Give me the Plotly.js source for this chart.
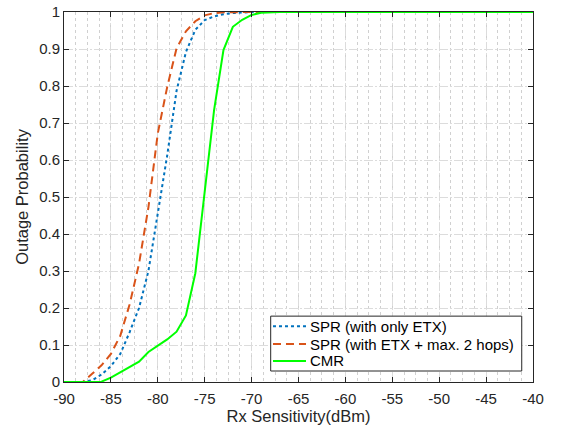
<!DOCTYPE html>
<html>
<head>
<meta charset="utf-8">
<script src="https://cdn.plot.ly/plotly-3.0.1.min.js"></script>
<style>html,body{margin:0;padding:0;background:#fff;}#chart{width:561px;height:433px;}</style>
</head>
<body>
<div id="chart"></div>
<script>
const rxSensitivity = [-90,-89,-88,-87,-86,-85,-84,-83,-82,-81,-80,-79,-78,-77,-76,-75,-74,-73,-72,-71,-70,-69,-68,-67,-66,-65,-64,-63,-62,-61,-60,-59,-58,-57,-56,-55,-54,-53,-52,-51,-50,-49,-48,-47,-46,-45,-44,-43,-42,-41,-40];
const sprOnlyEtx = [0,0,0,0.005,0.02,0.043,0.076,0.135,0.2,0.3,0.452,0.612,0.787,0.892,0.952,0.978,0.988,0.994,0.997,0.999,1,1,1,1,1,1,1,1,1,1,1,1,1,1,1,1,1,1,1,1,1,1,1,1,1,1,1,1,1,1,1];
const sprEtx2Hops = [0,0,0,0.022,0.045,0.076,0.125,0.21,0.32,0.472,0.672,0.797,0.902,0.948,0.975,0.991,0.997,0.999,1,1,1,1,1,1,1,1,1,1,1,1,1,1,1,1,1,1,1,1,1,1,1,1,1,1,1,1,1,1,1,1,1];
const cmr = [0,0,0,0,0.001,0.012,0.026,0.04,0.055,0.081,0.099,0.115,0.136,0.18,0.294,0.51,0.735,0.897,0.96,0.979,0.992,0.998,1,1,1,1,1,1,1,1,1,1,1,1,1,1,1,1,1,1,1,1,1,1,1,1,1,1,1,1,1];
const seriesNames = ["SPR (with only ETX)", "SPR (with ETX + max. 2 hops)", "CMR"];
const seriesColors = ['#0072BD', '#D95319', '#00FF00'];
const seriesDash = ['dot', '8px,5px', 'solid'];
const xTickVals = [-90,-85,-80,-75,-70,-65,-60,-55,-50,-45,-40];
const yTickVals = [0,0.1,0.2,0.3,0.4,0.5,0.6,0.7,0.8,0.9,1];

const seriesValues = [sprOnlyEtx, sprEtx2Hops, cmr];
const traces = seriesValues.map((vals, i) => ({
  x: rxSensitivity, y: vals, name: seriesNames[i], mode: 'lines',
  line: {color: seriesColors[i], width: 2, dash: seriesDash[i]}, showlegend: false
}));

// compact legend box (MATLAB style), drawn in paper coordinates
const legBox = {x0: 0.4407, x1: 0.976, y0: 0.0297, y1: 0.178};
const legRows = [0.1505, 0.1027, 0.0568];
const shapes = [{type: 'rect', xref: 'paper', yref: 'paper', x0: legBox.x0, x1: legBox.x1, y0: legBox.y0, y1: legBox.y1,
  fillcolor: '#fff', line: {color: '#262626', width: 1}, layer: 'above'}];
const annotations = [];
seriesNames.forEach((n, i) => {
  shapes.push({type: 'line', xref: 'paper', yref: 'paper', x0: 0.4456, x1: 0.516, y0: legRows[i], y1: legRows[i],
    line: {color: seriesColors[i], width: 2, dash: seriesDash[i]}, layer: 'above'});
  annotations.push({xref: 'paper', yref: 'paper', x: 0.5195, y: legRows[i], xanchor: 'left', yanchor: 'middle',
    text: n, showarrow: false, font: {size: 15, color: '#000'}});
});

const layout = {
  width: 561, height: 433,
  margin: {l: 64, r: 28, t: 12, b: 51},
  paper_bgcolor: '#fff', plot_bgcolor: '#fff',
  font: {family: 'Liberation Sans, Arial, sans-serif', size: 15, color: '#262626'},
  showlegend: false,
  shapes: shapes,
  annotations: annotations,
  xaxis: {
    range: [-90, -40], tickvals: xTickVals, ticktext: xTickVals.map(String),
    ticks: 'inside', ticklen: 5, tickcolor: '#262626', tickwidth: 1,
    showline: true, linecolor: '#262626', linewidth: 1, mirror: 'ticks',
    showgrid: true, gridcolor: '#dcdcdc', gridwidth: 1, griddash: '9px,2px,2px,2px',
    minor: {dtick: 1.25, showgrid: true, gridcolor: '#d0d0d0', griddash: 'dot', gridwidth: 1, ticks: ''},
    zeroline: false, ticklabelstandoff: 3,
    title: {text: 'Rx Sensitivity(dBm)', font: {size: 16.5, color: '#262626'}, standoff: 0},
    tickfont: {size: 15, color: '#262626'}
  },
  yaxis: {
    range: [0, 1], tickvals: yTickVals, ticktext: yTickVals.map(String),
    ticks: 'inside', ticklen: 5, tickcolor: '#262626', tickwidth: 1,
    showline: true, linecolor: '#262626', linewidth: 1, mirror: 'ticks',
    showgrid: true, gridcolor: '#dcdcdc', gridwidth: 1, griddash: '9px,2px,2px,2px',
    zeroline: false,
    title: {text: 'Outage Probability', font: {size: 16.5, color: '#262626'}, standoff: 6},
    tickfont: {size: 15, color: '#262626'}
  }
};

Plotly.newPlot('chart', traces, layout, {displayModeBar: false, staticPlot: true});
</script>
</body>
</html>
